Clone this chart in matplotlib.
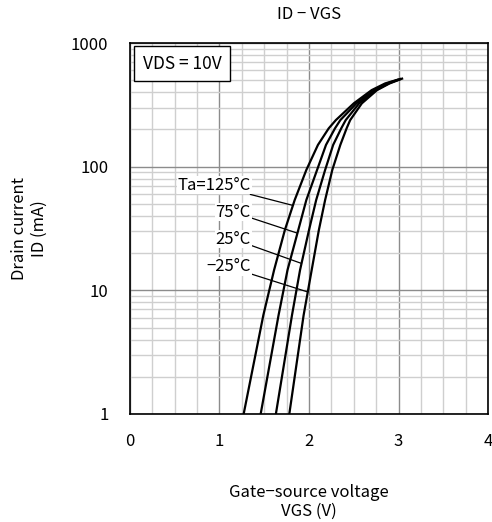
import numpy as np
from matplotlib import pyplot as plt
from matplotlib.ticker import FixedLocator, NullFormatter

plt.rcParams['font.family'] = ['Noto Sans CJK JP', 'DejaVu Sans']

# Drain current points (mA)
id_ma = [1, 6.3, 14.6, 30.7, 53.7, 94, 150, 204, 238, 325, 416, 471]
vgs_125 = [1.27, 1.49, 1.61, 1.73, 1.84, 1.97, 2.10, 2.22, 2.30, 2.50, 2.70, 2.85]
vgs_75 = [1.46, 1.66, 1.76, 1.88, 1.97, 2.09, 2.19, 2.29, 2.35, 2.53, 2.73, 2.87]
vgs_25 = [1.63, 1.81, 1.90, 2.00, 2.08, 2.18, 2.27, 2.36, 2.41, 2.56, 2.75, 2.89]
vgs_m25 = [1.78, 1.94, 2.03, 2.11, 2.18, 2.26, 2.35, 2.42, 2.46, 2.59, 2.76, 2.90]
# end points of each curve (V, mA)
end_pts = [(2.99, 505), (3.01, 508), (3.02, 512), (3.04, 515)]

curve_labels = ['Ta=125°C', '75°C', '25°C', '−25°C']
label_id = [71, 43, 26, 15.5]       # where label text sits (mA)
leader_id = [48.6, 29, 16.5, 9.7]   # where leader meets curve (mA)

fig = plt.figure(figsize=(4.92, 5.22), dpi=100)
ax = fig.add_axes([0.2642, 0.2069, 0.7277, 0.7107])

curves = [vgs_125, vgs_75, vgs_25, vgs_m25]
for v, (ve, ie) in zip(curves, end_pts):
    ax.plot(v + [ve], id_ma + [ie], color='black', lw=1.6, zorder=3)

ax.set_yscale('log')
ax.set_xlim(0, 4)
ax.set_ylim(1, 1000)

ax.xaxis.set_major_locator(FixedLocator([0, 1, 2, 3, 4]))
ax.xaxis.set_minor_locator(FixedLocator(np.arange(0, 4.01, 0.25)))
ax.yaxis.set_major_locator(FixedLocator([1, 10, 100, 1000]))
minor_y = [m * d for d in (1, 10, 100) for m in range(2, 10)]
ax.yaxis.set_minor_locator(FixedLocator(minor_y))
ax.yaxis.set_minor_formatter(NullFormatter())
ax.set_yticklabels(['1', '10', '100', '1000'])
ax.set_xticklabels(['0', '1', '2', '3', '4'])

ax.grid(which='minor', color='#cfcfcf', lw=1.0, zorder=0)
ax.grid(which='major', color='#8c8c8c', lw=1.0, zorder=1)
ax.tick_params(which='both', length=0, labelsize=12)
ax.tick_params(axis='y', pad=15.5)
ax.tick_params(axis='x', pad=14)
for s in ax.spines.values():
    s.set_color('black')
    s.set_linewidth(1.2)
    s.set_zorder(4)

# curve labels with leader lines
for lab, v, ly, cy in zip(curve_labels, curves, label_id, leader_id):
    vx = np.interp(np.log10(cy), np.log10(id_ma), v)
    ax.annotate(lab, xy=(vx, cy), xytext=(1.35, ly), ha='right', va='center',
                fontsize=12, zorder=5,
                bbox=dict(boxstyle='square,pad=0.05', fc='white', ec='none'),
                arrowprops=dict(arrowstyle='-', color='black', lw=0.9,
                                shrinkA=0, shrinkB=0))

ax.text(0.14, 680, 'VDS = 10V', fontsize=12.5, va='center', zorder=5,
        bbox=dict(boxstyle='square,pad=0.5', fc='white', ec='black', lw=1.0))

ax.set_title('ID − VGS', fontsize=12, pad=17)
ax.set_xlabel('Gate−source voltage\nVGS (V)', fontsize=12, labelpad=24,
              linespacing=1.15)
ax.set_ylabel('Drain current\nID (mA)', fontsize=12, labelpad=17,
              linespacing=1.15)

fig.savefig('out.png', dpi=100)
